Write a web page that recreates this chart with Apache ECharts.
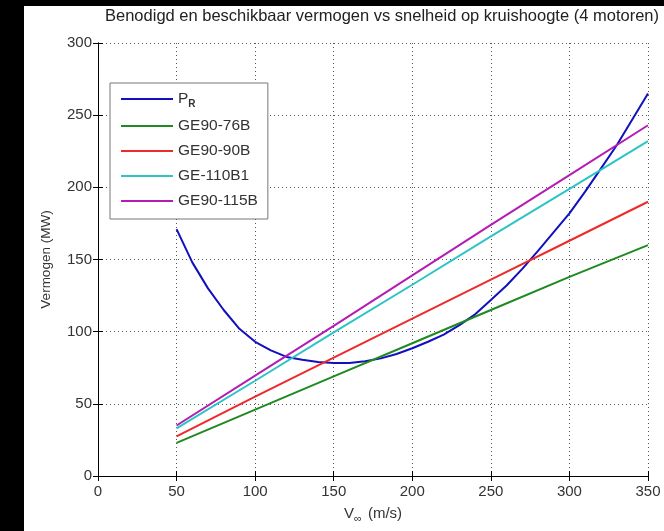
<!DOCTYPE html>
<html>
<head>
    <meta charset="UTF-8">
    <title>Vermogen vs snelheid</title>
    <script src="https://cdn.jsdelivr.net/npm/echarts@6/dist/echarts.min.js"></script>
    <style>
        body { margin: 0; background: #000; }
        #paper { position: absolute; left: 24px; top: 6px; right: 0; bottom: 0; background: #fff; }
        #chart { position: absolute; left: 0; top: 0; width: 664px; height: 531px; }
    </style>
</head>
<body>
<div id="paper"></div>
<div id="chart"></div>
<script>
    // benodigd vermogen P_R (MW) tegen V (m/s)
    var speedsPR = [50, 60, 70, 80, 90, 100, 110, 120, 130, 140, 150, 160, 170, 180, 190, 200,
        210, 220, 230, 240, 250, 260, 270, 280, 290, 300, 310, 320, 330, 340, 350];
    var powerPR = [171, 148, 130, 115, 102, 93, 87, 82.5, 80.5, 79, 78.3, 78.3, 79.5, 81.5, 84.5, 88.5,
        93, 98, 104.5, 112, 122, 132, 143.5, 156, 169, 182, 197, 213, 229, 247, 265];

    // beschikbaar vermogen per motortype
    var speedsEngine = [50, 100, 150, 200, 250, 300, 350];
    var ge9076b  = [23, 46, 69, 92, 115, 138, 160];
    var ge9090b  = [27.5, 55, 82, 109, 136, 163, 190];
    var ge110b1  = [33, 66, 99.5, 132.5, 166, 199, 232];
    var ge90115b = [35, 69.5, 104, 139, 174, 208.5, 243];

    var xTicks = {min: 0, max: 350, interval: 50};
    var yTicks = {min: 0, max: 300, interval: 50};

    function pairs(xs, ys) {
        return xs.map(function (x, i) { return [x, ys[i]]; });
    }

    var font = 'Liberation Sans';

    function mkLine(name, color, xs, ys) {
        return {
            name: name,
            type: 'line',
            data: pairs(xs, ys),
            symbol: 'none',
            smooth: false,
            lineStyle: {color: color, width: 2},
            itemStyle: {color: color}
        };
    }

    var option = {
        backgroundColor: 'transparent',
        animation: false,
        title: {
            text: 'Benodigd en beschikbaar vermogen vs snelheid op kruishoogte (4 motoren)',
            left: 377,
            textAlign: 'center',
            top: 3,
            textStyle: {fontFamily: font, fontSize: 16.5, fontWeight: 'normal', color: '#222'}
        },
        legend: {
            orient: 'vertical',
            left: 110,
            top: 83,
            itemWidth: 52,
            itemHeight: 14,
            itemGap: 9,
            padding: [8, 10, 10, 10],
            backgroundColor: '#fff',
            borderColor: '#777',
            borderWidth: 1,
            borderRadius: 0,
            itemStyle: {opacity: 0},
            data: ['P_R', 'GE90-76B', 'GE90-90B', 'GE-110B1', 'GE90-115B'],
            formatter: function (name) {
                if (name === 'P_R') return '{p|P}{s|R}';
                return name;
            },
            textStyle: {
                fontFamily: font, fontSize: 15.5, color: '#333',
                rich: {
                    p: {fontFamily: font, fontSize: 15.5, color: '#333'},
                    s: {fontFamily: font, fontSize: 10, color: '#333', fontWeight: 'bold', padding: [10, 0, 0, 0]}
                }
            }
        },
        grid: {left: 98, right: 16, top: 43, bottom: 55, containLabel: false},
        xAxis: [{
            type: 'value',
            min: xTicks.min, max: xTicks.max, interval: xTicks.interval,
            name: 'V{s|∞} (m/s)',
            nameLocation: 'middle',
            nameGap: 28,
            nameTextStyle: {
                fontFamily: font, fontSize: 15, color: '#333',
                rich: {s: {fontFamily: font, fontSize: 11, color: '#333', padding: [9, 2, 0, 0]}}
            },
            axisLine: {show: true, lineStyle: {color: '#000', width: 1}},
            axisTick: {show: true, inside: true, length: 5, lineStyle: {color: '#000'}},
            axisLabel: {fontFamily: font, fontSize: 15, color: '#333', margin: 8},
            splitLine: {show: true, lineStyle: {color: '#555', type: [1, 3], width: 1}}
        }, {
            type: 'value', position: 'top',
            min: xTicks.min, max: xTicks.max, interval: xTicks.interval,
            axisLine: {show: true, lineStyle: {color: '#000', width: 1}},
            axisTick: {show: true, inside: true, length: 5, lineStyle: {color: '#000'}},
            axisLabel: {show: false},
            splitLine: {show: false}
        }],
        yAxis: [{
            type: 'value',
            min: yTicks.min, max: yTicks.max, interval: yTicks.interval,
            name: 'Vermogen (MW)',
            nameLocation: 'middle',
            nameGap: 45,
            nameTextStyle: {fontFamily: font, fontSize: 13.5, color: '#333'},
            axisLine: {show: true, lineStyle: {color: '#000', width: 1}},
            axisTick: {show: true, inside: true, length: 5, lineStyle: {color: '#000'}},
            axisLabel: {fontFamily: font, fontSize: 15, color: '#333', margin: 6},
            splitLine: {show: true, lineStyle: {color: '#555', type: [1, 3], width: 1}}
        }, {
            type: 'value', position: 'right',
            min: yTicks.min, max: yTicks.max, interval: yTicks.interval,
            axisLine: {show: true, lineStyle: {color: '#000', width: 1}},
            axisTick: {show: true, inside: true, length: 5, lineStyle: {color: '#000'}},
            axisLabel: {show: false},
            splitLine: {show: false}
        }],
        series: [
            mkLine('P_R', '#1010c0', speedsPR, powerPR),
            mkLine('GE90-76B', '#1f8a1f', speedsEngine, ge9076b),
            mkLine('GE90-90B', '#ee2a2a', speedsEngine, ge9090b),
            mkLine('GE-110B1', '#2cc4c4', speedsEngine, ge110b1),
            mkLine('GE90-115B', '#b41cb4', speedsEngine, ge90115b)
        ]
    };

    var myChart = echarts.init(document.getElementById('chart'));
    myChart.setOption(option);
</script>
</body>
</html>
